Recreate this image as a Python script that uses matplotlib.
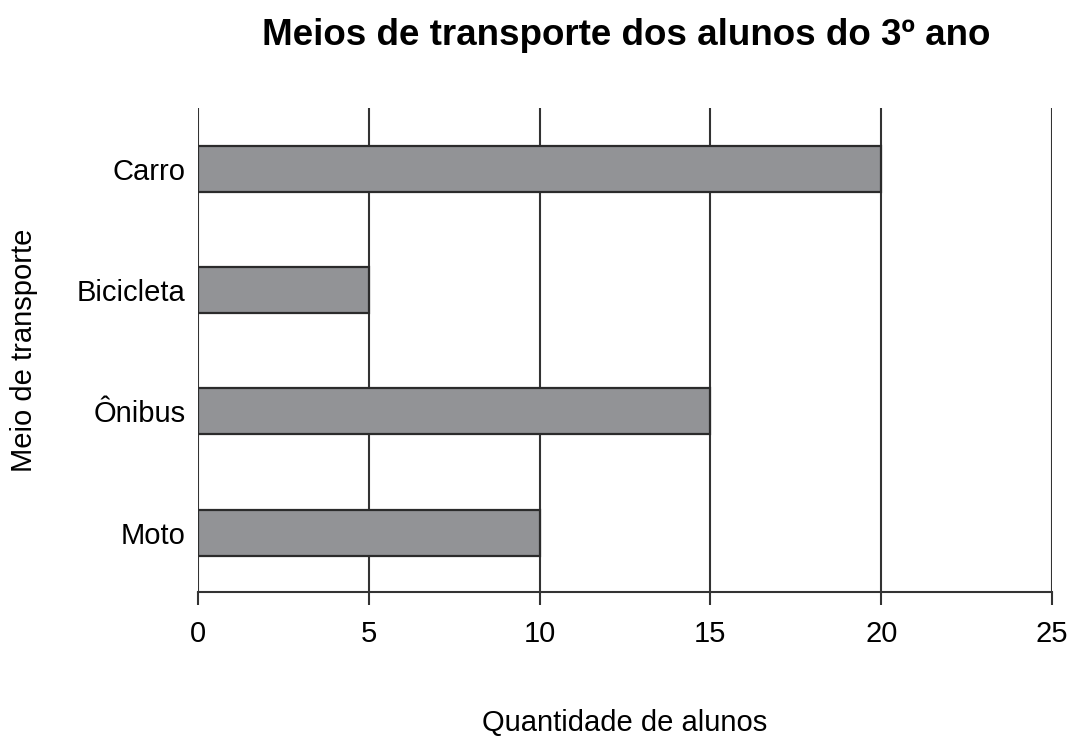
import matplotlib
matplotlib.use('Agg')
import matplotlib.pyplot as plt

# dados
meios = ['Moto', 'Ônibus', 'Bicicleta', 'Carro']
alunos = [10, 15, 5, 20]
xticks = [0, 5, 10, 15, 20, 25]

plt.rcParams['font.family'] = ['Liberation Sans', 'DejaVu Sans']

fig = plt.figure(figsize=(10.77, 7.38), dpi=100)
ax = fig.add_axes([0.1838, 0.1978, 0.793, 0.6559])

ax.barh(range(len(meios)), alunos, height=0.38, color='#929396',
        edgecolor='#2b2b2b', linewidth=1.6, zorder=3)

ax.set_xlim(0, 25)
ax.set_ylim(-0.49, 3.5)
ax.set_xticks(xticks)
ax.set_yticks(range(len(meios)))
ax.set_yticklabels(meios)

for x in xticks:
    ax.axvline(x, color='#333333', linewidth=1.5, zorder=1)

for s in ['top', 'right', 'left']:
    ax.spines[s].set_visible(False)
ax.spines['bottom'].set_color('#333333')
ax.spines['bottom'].set_linewidth(1.5)

ax.tick_params(axis='x', length=9, width=1.5, color='#333333', pad=11, labelsize=21)
ax.tick_params(axis='y', length=0, pad=9, labelsize=21)

ax.set_xlabel('Quantidade de alunos', fontsize=21, labelpad=44)
ax.set_ylabel('Meio de transporte', fontsize=21, labelpad=28)

fig.suptitle('Meios de transporte dos alunos do 3º ano', fontsize=26.5,
             fontweight='bold', x=0.581, y=0.975, va='top')

fig.savefig('out.png', dpi=100)
